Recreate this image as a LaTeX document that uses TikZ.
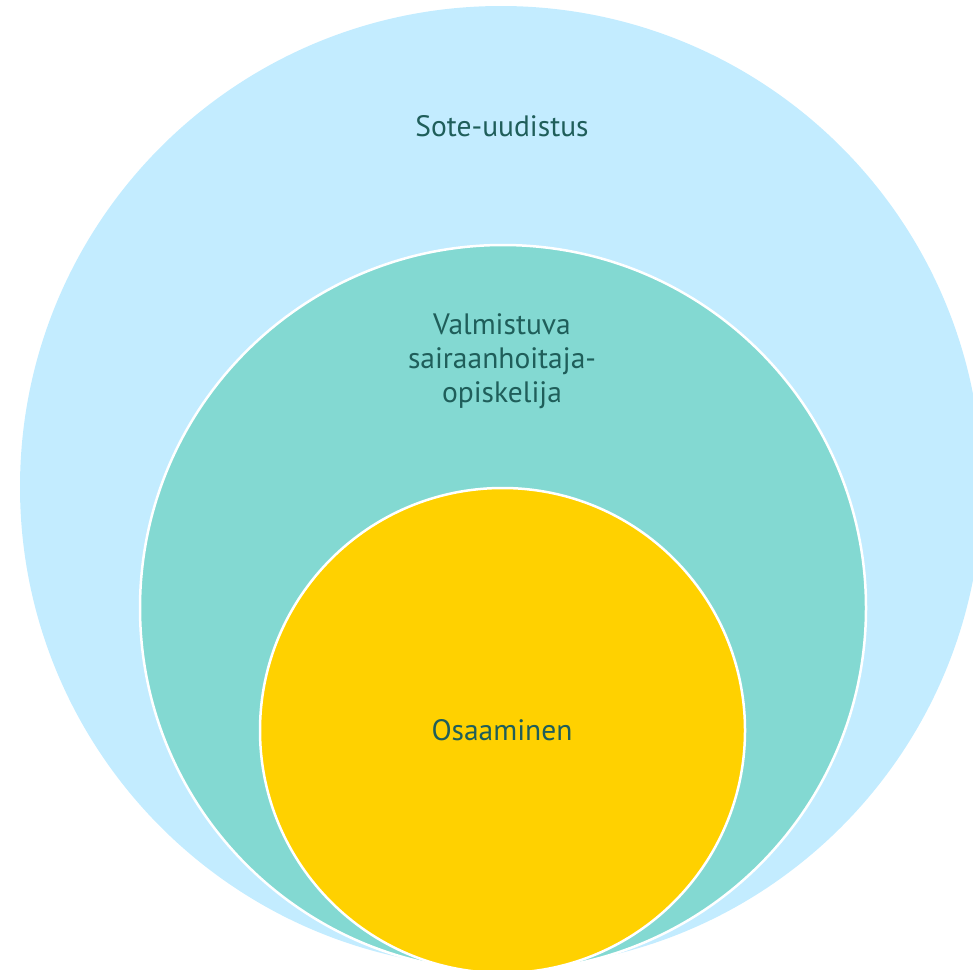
\documentclass[tikz,border=0pt]{standalone}
\usepackage{fontspec}
\setmainfont{PT Sans}
\definecolor{outerc}{HTML}{C3ECFF}
\definecolor{midc}{HTML}{83D9D2}
\definecolor{innerc}{HTML}{FFD100}
\definecolor{txtc}{HTML}{1F5E5A}
\tikzset{
  ring/.style={draw=white, line width=2.5pt},
  lbl/.style={text=txtc, font=\fontsize{29.5}{34}\selectfont, align=center}
}
\begin{document}
\begin{tikzpicture}[x=1pt,y=-1pt]
\useasboundingbox (0,0) rectangle (973,969);
\clip (0,0) rectangle (973,969);
\fill[outerc] (501,487) circle (481);
\fill[midc] (503,608) circle (363);
\draw[ring] (503,608) circle (363);
\fill[innerc] (502.5,730.5) circle (242.5);
\draw[ring] (502.5,730.5) circle (242.5);
\node[lbl] (sote) at (502,126) {Sote-uudistus};
\node[lbl] (valm) at (502,361) {Valmistuva\\sairaanhoitaja-\\opiskelija};
\node[lbl] (osa) at (502,730) {Osaaminen};
\end{tikzpicture}
\end{document}
